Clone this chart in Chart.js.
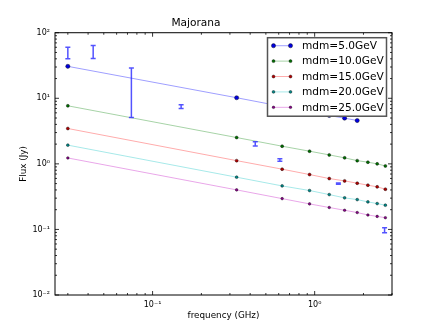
<!DOCTYPE html>
<html>
<head>
<meta charset="utf-8">
<script src="https://cdn.jsdelivr.net/npm/chart.js@4.4.1/dist/chart.umd.min.js"></script>
<style>
html, body { margin: 0; padding: 0; background: #fff; }
</style>
</head>
<body>
<canvas id="myChart" width="436" height="329"></canvas>
<script>
// frekvenser (GHz) for modelkurverne
var freq = [0.03, 0.33, 0.63, 0.93, 1.23, 1.53, 1.83, 2.13, 2.43, 2.73];
var mdmLabels = ["mdm=5.0GeV", "mdm=10.0GeV", "mdm=15.0GeV", "mdm=20.0GeV", "mdm=25.0GeV"];
// flux (Jy)
var flux5 = [30.7, 10.2, 7.5, 6.2, 5.46, 4.98, 4.58];
var flux10 = [7.68, 2.52, 1.86, 1.56, 1.37, 1.235, 1.12, 1.06, 1.0, 0.93];
var flux15 = [3.46, 1.12, 0.83, 0.687, 0.597, 0.55, 0.507, 0.473, 0.446, 0.411];
var flux20 = [1.93, 0.626, 0.461, 0.392, 0.34, 0.303, 0.285, 0.263, 0.248, 0.234];
var flux25 = [1.23, 0.401, 0.295, 0.245, 0.216, 0.196, 0.181, 0.166, 0.158, 0.151];

// målepunkter med fejlgrænser
var obsFreq = [0.03, 0.043, 0.074, 0.15, 0.43, 0.61, 1.4, 2.7];
var obsLow = [40, 40.5, 5.1, 7.0, 1.88, 1.1, 0.49, 0.089];
var obsHigh = [60, 64, 29, 8.0, 2.17, 1.2, 0.51, 0.106];

var xTickVals = [0.1, 1];
var xTickLabels = ["10\u207B\u00B9", "10\u2070"];
var yTickVals = [0.01, 0.1, 1, 10, 100];
var yTickLabels = ["10\u207B\u00B2", "10\u207B\u00B9", "10\u2070", "10\u00B9", "10\u00B2"];

var fam = "'DejaVu Sans', sans-serif";
var allFlux = [flux5, flux10, flux15, flux20, flux25];
var lineCols = ["rgba(0,0,255,0.38)", "rgba(0,128,0,0.35)", "rgba(255,0,0,0.33)", "rgba(0,191,191,0.35)", "rgba(191,0,191,0.35)"];
var dotCols = ["#0000dd", "#007000", "#b00000", "#008a8a", "#8a008a"];
var dotSize = [2.1, 1.5, 1.5, 1.4, 1.3];

function pts(arr) {
    var out = [];
    for (var i = 0; i < arr.length; i++) out.push({x: freq[i], y: arr[i]});
    return out;
}

var datasets = [];
for (var k = 0; k < allFlux.length; k++) {
    datasets.push({
        label: mdmLabels[k],
        data: pts(allFlux[k]),
        showLine: true,
        borderColor: lineCols[k],
        borderWidth: 1,
        pointRadius: dotSize[k],
        pointBackgroundColor: dotCols[k],
        pointBorderColor: "#000",
        pointBorderWidth: 0.4
    });
}

// fejlbarer tegnes via skalaerne
var errorBars = {
    id: "errorBars",
    afterDatasetsDraw: function (chart) {
        var ctx = chart.ctx, xs = chart.scales.x, ys = chart.scales.y;
        ctx.save();
        ctx.strokeStyle = "rgba(40,40,255,0.8)";
        ctx.lineWidth = 1.5;
        for (var i = 0; i < obsFreq.length; i++) {
            var px = xs.getPixelForValue(obsFreq[i]);
            var y1 = ys.getPixelForValue(obsLow[i]);
            var y2 = ys.getPixelForValue(obsHigh[i]);
            ctx.beginPath();
            ctx.moveTo(px, y1); ctx.lineTo(px, y2);
            ctx.moveTo(px - 2.5, y1); ctx.lineTo(px + 2.5, y1);
            ctx.moveTo(px - 2.5, y2); ctx.lineTo(px + 2.5, y2);
            ctx.stroke();
        }
        ctx.restore();
    }
};

// ramme og indadvendte ticks som i matplotlib
var frameTicks = {
    id: "frameTicks",
    afterDraw: function (chart) {
        var ctx = chart.ctx, a = chart.chartArea, xs = chart.scales.x, ys = chart.scales.y;
        ctx.save();
        ctx.strokeStyle = "#000";
        ctx.lineWidth = 0.8;
        ctx.beginPath();
        for (var d = -3; d <= 2; d++) {
            for (var m = 1; m <= 9; m++) {
                var v = m * Math.pow(10, d);
                var len = m === 1 ? 4 : 2;
                if (v >= 0.025 && v <= 3) {
                    var px = xs.getPixelForValue(v);
                    ctx.moveTo(px, a.bottom); ctx.lineTo(px, a.bottom - len);
                    ctx.moveTo(px, a.top); ctx.lineTo(px, a.top + len);
                }
                if (v >= 0.01 && v <= 100) {
                    var py = ys.getPixelForValue(v);
                    ctx.moveTo(a.left, py); ctx.lineTo(a.left + len, py);
                    ctx.moveTo(a.right, py); ctx.lineTo(a.right - len, py);
                }
            }
        }
        ctx.stroke();
        ctx.lineWidth = 1;
        ctx.strokeRect(a.left, a.top, a.right - a.left, a.bottom - a.top);
        ctx.restore();
    }
};

var legendBox = {
    id: "legendBox",
    afterDraw: function (chart) {
        var ctx = chart.ctx, a = chart.chartArea;
        var x1 = a.right - 5.5, x0 = x1 - 119, y0 = a.top + 5, rowH = 15.4;
        var n = chart.data.datasets.length;
        var h = rowH * n + 1.5;
        ctx.save();
        ctx.fillStyle = "#fff";
        ctx.fillRect(x0, y0, x1 - x0, h);
        ctx.strokeStyle = "#555";
        ctx.lineWidth = 1.5;
        ctx.strokeRect(x0, y0, x1 - x0, h);
        ctx.font = "10.6px " + fam;
        ctx.textBaseline = "middle";
        for (var i = 0; i < n; i++) {
            var ds = chart.data.datasets[i];
            var cy = y0 + 8 + i * rowH;
            ctx.strokeStyle = ds.borderColor;
            ctx.lineWidth = 1;
            ctx.beginPath();
            ctx.moveTo(x0 + 6, cy); ctx.lineTo(x0 + 23, cy);
            ctx.stroke();
            [x0 + 6, x0 + 23].forEach(function (mx) {
                ctx.beginPath();
                ctx.arc(mx, cy, ds.pointRadius, 0, Math.PI * 2);
                ctx.fillStyle = ds.pointBackgroundColor;
                ctx.fill();
                ctx.lineWidth = 0.4;
                ctx.strokeStyle = "#000";
                ctx.stroke();
            });
            ctx.fillStyle = "#000";
            ctx.fillText(ds.label, x0 + 34.5, cy + 0.5);
        }
        ctx.restore();
    }
};

var chart = new Chart(document.getElementById("myChart").getContext("2d"), {
    type: "scatter",
    data: { datasets: datasets },
    plugins: [errorBars, frameTicks, legendBox],
    options: {
        responsive: false,
        animation: false,
        devicePixelRatio: 1,
        layout: { padding: { left: 0, right: 44, top: 0, bottom: 0 } },
        plugins: {
            legend: { display: false },
            tooltip: { enabled: false },
            title: {
                display: true,
                text: "Majorana",
                color: "#000",
                font: { family: fam, size: 10.6, weight: "normal" },
                padding: { top: 17, bottom: 3 }
            }
        },
        scales: {
            x: {
                type: "logarithmic",
                min: 0.025,
                max: 3,
                grid: { display: false, drawTicks: false },
                border: { display: false },
                afterBuildTicks: function (s) {
                    s.ticks = xTickVals.map(function (v) { return {value: v}; });
                },
                ticks: {
                    autoSkip: false,
                    maxRotation: 0,
                    padding: 5,
                    color: "#000",
                    font: { family: fam, size: 8 },
                    callback: function (v) { return xTickLabels[xTickVals.indexOf(v)]; }
                },
                title: {
                    display: true,
                    text: "frequency (GHz)",
                    color: "#000",
                    font: { family: fam, size: 8.8 },
                    padding: { top: 0, bottom: 7.6 }
                },
                afterFit: function (s) { s.height = 34; }
            },
            y: {
                type: "logarithmic",
                min: 0.01,
                max: 100,
                grid: { display: false, drawTicks: false },
                border: { display: false },
                afterBuildTicks: function (s) {
                    s.ticks = yTickVals.map(function (v) { return {value: v}; });
                },
                ticks: {
                    autoSkip: false,
                    padding: 5,
                    color: "#000",
                    font: { family: fam, size: 8 },
                    callback: function (v) { return yTickLabels[yTickVals.indexOf(v)]; }
                },
                title: {
                    display: true,
                    text: "Flux (Jy)",
                    color: "#000",
                    font: { family: fam, size: 8.8 },
                    padding: { top: 18.3, bottom: 0 }
                },
                afterFit: function (s) { s.width = 55; }
            }
        }
    }
});
</script>
</body>
</html>
